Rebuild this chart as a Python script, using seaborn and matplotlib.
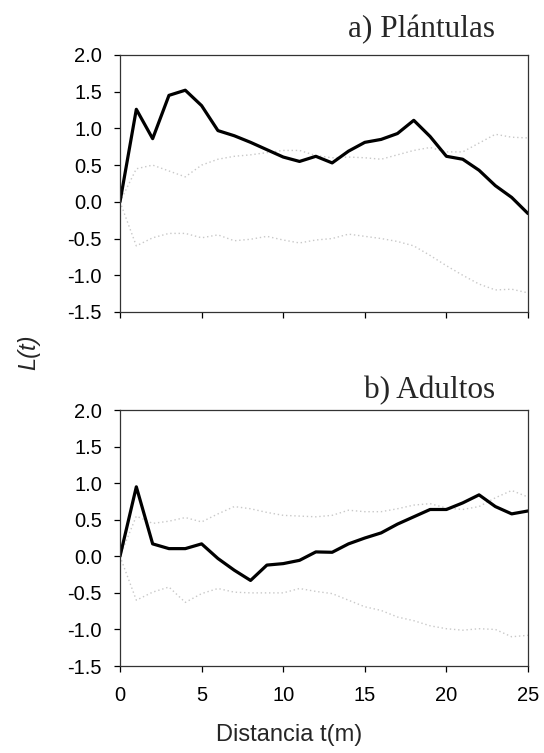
import numpy as np
import pandas as pd
import matplotlib
matplotlib.use("Agg")
import matplotlib.pyplot as plt
import seaborn as sns

distance = list(range(26))

# a) Plántulas
seed_L = [0.0, 1.26, 0.86, 1.45, 1.52, 1.31, 0.97, 0.90, 0.81, 0.71, 0.61, 0.55, 0.62,
          0.53, 0.69, 0.81, 0.85, 0.93, 1.11, 0.89, 0.62, 0.58, 0.43, 0.22, 0.06, -0.16]
seed_up = [0.0, 0.45, 0.50, 0.42, 0.34, 0.50, 0.58, 0.62, 0.64, 0.67, 0.70, 0.70, 0.63,
           0.60, 0.61, 0.60, 0.58, 0.64, 0.70, 0.74, 0.68, 0.68, 0.80, 0.92, 0.88, 0.87]
seed_lo = [0.0, -0.60, -0.49, -0.43, -0.43, -0.49, -0.45, -0.53, -0.51, -0.47, -0.52, -0.56,
           -0.52, -0.50, -0.44, -0.47, -0.50, -0.54, -0.60, -0.73, -0.87, -1.00, -1.12, -1.20,
           -1.19, -1.24]

# b) Adultos
adult_L = [0.0, 0.95, 0.17, 0.105, 0.105, 0.17, -0.03, -0.19, -0.33, -0.12, -0.10, -0.055,
           0.06, 0.055, 0.17, 0.25, 0.32, 0.44, 0.54, 0.64, 0.64, 0.73, 0.84, 0.68, 0.58, 0.62]
adult_up = [0.0, 0.55, 0.45, 0.48, 0.53, 0.47, 0.58, 0.68, 0.65, 0.60, 0.56, 0.55, 0.54,
            0.56, 0.63, 0.61, 0.61, 0.65, 0.70, 0.72, 0.66, 0.64, 0.68, 0.80, 0.90, 0.81]
adult_lo = [0.0, -0.60, -0.49, -0.42, -0.63, -0.51, -0.44, -0.49, -0.50, -0.50, -0.50, -0.44,
            -0.48, -0.51, -0.60, -0.69, -0.74, -0.83, -0.88, -0.95, -0.99, -1.01, -0.99, -1.00,
            -1.10, -1.08]

panel_titles = ["a) Plántulas", "b) Adultos"]
yticks = [-1.5, -1.0, -0.5, 0.0, 0.5, 1.0, 1.5, 2.0]
xticks = [0, 5, 10, 15, 20, 25]

sns.set_theme(style="ticks")
plt.rcParams['font.family'] = ['Liberation Sans', 'DejaVu Sans']

fig = plt.figure(figsize=(5.44, 7.53), dpi=100)
ax1 = fig.add_axes([0.2206, 0.5857, 0.75, 0.3413])
ax2 = fig.add_axes([0.2206, 0.1155, 0.75, 0.3400])

title_y = [1.10, 1.075]
panels = [(ax1, seed_L, seed_up, seed_lo), (ax2, adult_L, adult_up, adult_lo)]
for i, (ax, L, up, lo) in enumerate(panels):
    df = pd.DataFrame({"t": distance, "L": L, "up": up, "lo": lo})
    for col in ["up", "lo"]:
        sns.lineplot(data=df, x="t", y=col, ax=ax, color="#c8c8c8",
                     linewidth=1.0, linestyle=(0, (1, 2)))
    sns.lineplot(data=df, x="t", y="L", ax=ax, color="black", linewidth=2.3)
    ax.set_xlim(0, 25)
    ax.set_ylim(-1.5, 2.0)
    ax.set_yticks(yticks)
    ax.set_yticklabels([f"{v:.1f}" for v in yticks])
    ax.set_xticks(xticks)
    ax.set_xlabel("")
    ax.set_ylabel("")
    for s in ax.spines.values():
        s.set_visible(True)
        s.set_linewidth(0.9)
        s.set_color("#333333")
    ax.tick_params(direction="out", length=4.5, width=0.9, labelsize=14.5, colors="black")
    ax.tick_params(axis="y", pad=8.5)
    ax.tick_params(axis="x", pad=10)
    ax.text(0.919, title_y[i], panel_titles[i], transform=ax.transAxes, ha="right", va="center",
            fontsize=22.5, family="Liberation Serif")

ax1.set_xticklabels([])
fig.text(289 / 544, 1 - 735 / 753, "Distancia t(m)", ha="center", va="center", fontsize=17)
fig.text(29 / 544, 1 - 352 / 753, "L(t)", rotation=90, ha="center", va="center",
         fontsize=17, style="italic")

fig.savefig("out.png", dpi=100)
